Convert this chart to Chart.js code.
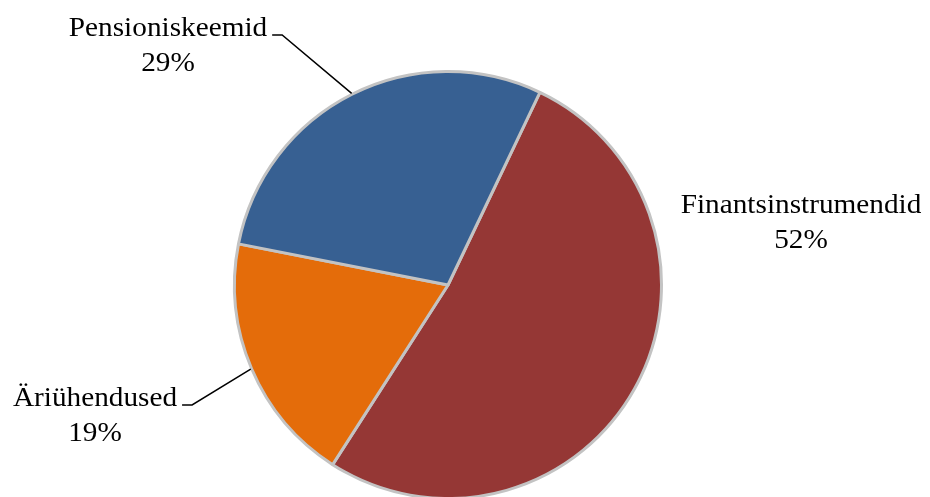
<!DOCTYPE html>
<html>
<head>
<meta charset="utf-8">
<title>Jaotus</title>
<script src="https://cdn.jsdelivr.net/npm/chart.js@4.4.1/dist/chart.umd.min.js"></script>
<style>
  html, body { margin: 0; padding: 0; background: #fff; overflow: hidden; }
  #wrap { width: 930px; height: 497px; position: relative; }
</style>
</head>
<body>
<div id="wrap"><canvas id="pieChart" width="930" height="497"></canvas></div>
<script>
// andmed (järjekord päripäeva alates ülemisest paremast piirist)
const categories = ['Finantsinstrumendid', 'Äriühendused', 'Pensioniskeemid'];
const shares = [52, 19, 29];
const sliceColors = ['#953735', '#E46C0A', '#376092'];

// sildi asukoht (keskpunkt x, esimese rea baasjoon y) ja kas joonistada juhtjoon
const labelSpots = [
  { x: 801, y: 213, leader: false },
  { x: 95, y: 406, leader: true },
  { x: 168, y: 36, leader: true }
];

const FONT = "28px 'Liberation Serif'";
const STRETCH = 1.045;
const LINE_GAP = 35;

// Sildid koos juhtjoontega
const calloutPlugin = {
  id: 'callouts',
  afterDatasetsDraw(chart) {
    const ctx = chart.ctx;
    const arcs = chart.getDatasetMeta(0).data;
    ctx.save();
    ctx.font = FONT;
    ctx.fillStyle = '#000';
    ctx.strokeStyle = '#000';
    ctx.lineWidth = 1.5;
    arcs.forEach((arc, i) => {
      const spot = labelSpots[i];
      const name = categories[i];
      const pct = shares[i] + '%';
      const w = ctx.measureText(name).width * STRETCH;

      [name, pct].forEach((txt, row) => {
        ctx.save();
        ctx.translate(spot.x, spot.y + row * LINE_GAP);
        ctx.scale(STRETCH, 1);
        ctx.textAlign = 'center';
        ctx.textBaseline = 'alphabetic';
        ctx.fillText(txt, 0, 0);
        ctx.restore();
      });

      if (spot.leader) {
        const p = arc.getProps(['x', 'y', 'startAngle', 'endAngle', 'outerRadius'], true);
        const mid = (p.startAngle + p.endAngle) / 2;
        const ax = p.x + Math.cos(mid) * (p.outerRadius + 1);
        const ay = p.y + Math.sin(mid) * (p.outerRadius + 1);
        const sx = spot.x + w / 2 + 5;
        const sy = spot.y - 1;
        ctx.beginPath();
        ctx.moveTo(sx, sy);
        ctx.lineTo(sx + 10, sy);
        ctx.lineTo(ax, ay);
        ctx.stroke();
      }
    });
    ctx.restore();
  }
};

new Chart(document.getElementById('pieChart'), {
  type: 'pie',
  data: {
    labels: categories,
    datasets: [{
      data: shares,
      backgroundColor: sliceColors,
      borderColor: '#C3C3C3',
      borderWidth: 3,
      clip: false
    }]
  },
  options: {
    responsive: false,
    animation: false,
    rotation: 25.5,
    radius: 213.5,
    layout: {
      padding: { left: 233, right: 267, top: 73, bottom: 0 }
    },
    plugins: {
      legend: { display: false },
      tooltip: { enabled: false }
    }
  },
  plugins: [calloutPlugin]
});
</script>
</body>
</html>
